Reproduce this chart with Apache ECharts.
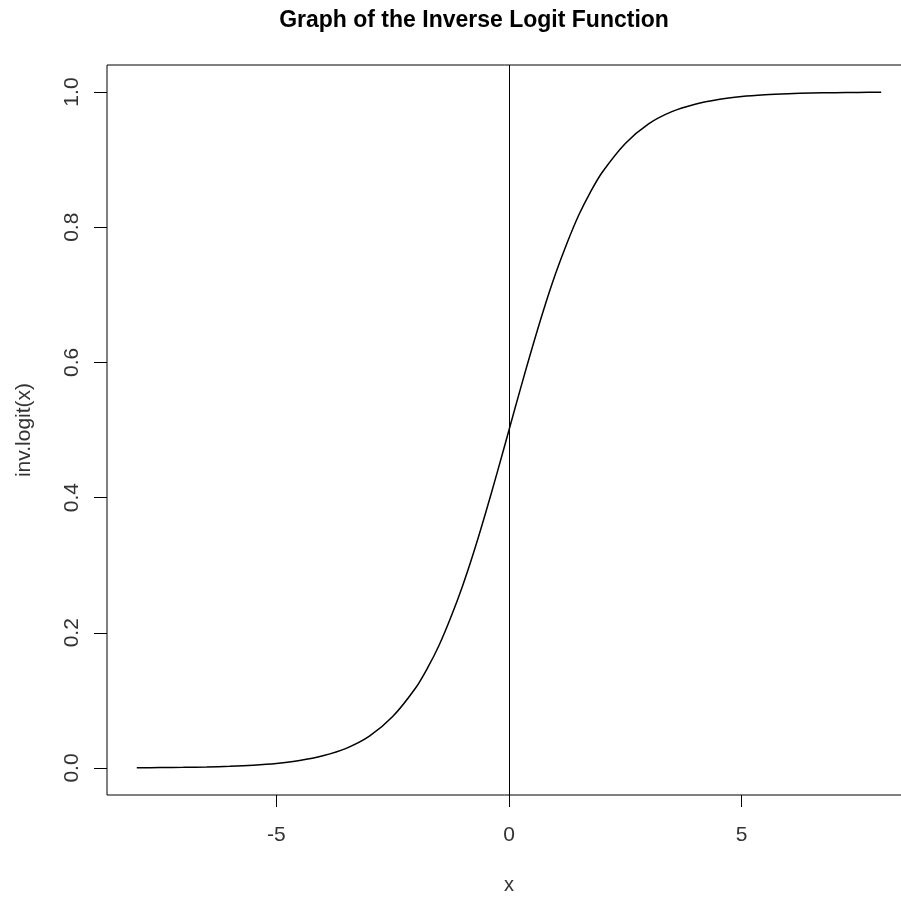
<!DOCTYPE html>
<html>
<head>
<meta charset="utf-8">
<script src="https://cdn.jsdelivr.net/npm/echarts@6/dist/echarts.min.js"></script>
<style>
  html, body { margin: 0; padding: 0; background: #fff; }
  #chart { width: 901px; height: 898px; }
</style>
</head>
<body>
<div id="chart"></div>
<script>
// values
const xValues = [-8, -7.5, -7, -6.5, -6, -5.5, -5, -4.5, -4, -3.5, -3, -2.5, -2, -1.75, -1.5, -1.25, -1, -0.75, -0.5, -0.25,
  0, 0.25, 0.5, 0.75, 1, 1.25, 1.5, 1.75, 2, 2.5, 3, 3.5, 4, 4.5, 5, 5.5, 6, 6.5, 7, 7.5, 8];
const yValues = [0.0003, 0.0006, 0.0009, 0.0015, 0.0025, 0.0041, 0.0067, 0.011, 0.018, 0.029, 0.047,
  0.076, 0.119, 0.148, 0.182, 0.223, 0.269, 0.321, 0.378, 0.438,
  0.5, 0.562, 0.622, 0.679, 0.731, 0.777, 0.818, 0.852, 0.881, 0.924, 0.953, 0.971, 0.982,
  0.989, 0.9933, 0.9959, 0.9975, 0.9985, 0.9991, 0.9994, 0.9997];
const xTicks = [-5, 0, 5];
const yTicks = [0, 0.2, 0.4, 0.6, 0.8, 1.0];

const points = xValues.map((x, i) => [x, yValues[i]]);
const font = 'Liberation Sans, Arial, sans-serif';

const chart = echarts.init(document.getElementById('chart'));
chart.setOption({
  animation: false,
  backgroundColor: '#fff',
  title: {
    text: 'Graph of the Inverse Logit Function',
    left: 469,
    top: 4,
    textAlign: 'center',
    textStyle: { fontFamily: font, fontWeight: 'bold', fontSize: 23, color: '#000' }
  },
  grid: {
    left: 107, right: -10, top: 65, bottom: 103,
    outerBoundsMode: 'none',
    containLabel: false,
    show: true, borderColor: '#000', borderWidth: 1, backgroundColor: 'transparent'
  },
  xAxis: {
    type: 'value',
    min: -8.64, max: 8.64,
    name: 'x',
    nameLocation: 'middle',
    nameGap: 80,
    nameTextStyle: { fontFamily: font, fontSize: 20, color: '#333' },
    splitLine: { show: false },
    axisLine: { show: false, onZero: false },
    axisTick: { show: true, length: 12, customValues: xTicks, lineStyle: { color: '#000' } },
    axisLabel: {
      customValues: xTicks, margin: 30, fontFamily: font, fontSize: 21, color: '#333',
      formatter: v => String(v)
    }
  },
  yAxis: {
    type: 'value',
    min: -0.04, max: 1.04,
    name: 'inv.logit(x)',
    nameLocation: 'middle',
    nameRotate: 90,
    nameGap: 72,
    nameTextStyle: { fontFamily: font, fontSize: 21, color: '#333' },
    splitLine: { show: false },
    axisLine: { show: false, onZero: false },
    axisTick: { show: true, length: 13, customValues: yTicks, lineStyle: { color: '#000' } },
    axisLabel: {
      customValues: yTicks, rotate: 90, margin: 24, fontFamily: font, fontSize: 21, color: '#333',
      formatter: v => v.toFixed(1)
    }
  },
  series: [{
    type: 'line',
    data: points,
    smooth: 0.3,
    symbol: 'none',
    lineStyle: { color: '#000', width: 1.5 },
    markLine: {
      silent: true,
      symbol: 'none',
      label: { show: false },
      lineStyle: { color: '#000', width: 1, type: 'solid' },
      data: [{ xAxis: 0 }]
    }
  }]
});
</script>
</body>
</html>
